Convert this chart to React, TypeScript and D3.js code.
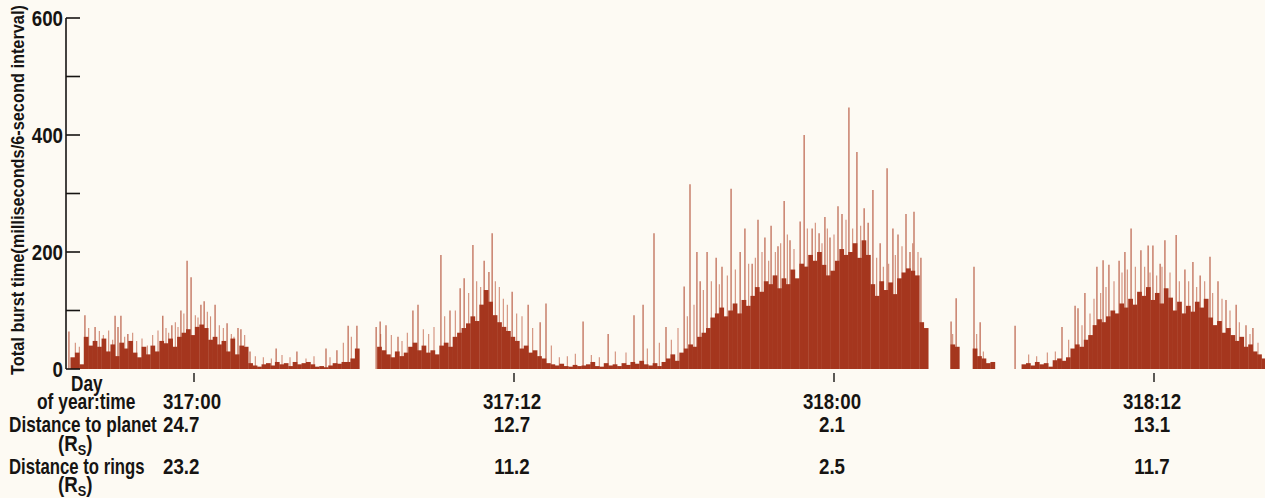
import React from 'react';
import * as d3 from 'd3';

// Time axis: hours after 317:00 (day of year 317, 00:00)
const timeDomain = [-4.8, 40.2];
const binHours = 1 / 6; // 10-minute bins

// Burst body per 10-minute bin (ms per 6 s interval), null = no data
const burstBody: (number | null)[] = [
  null, 20, 28, 8, 55, 40, 48, 38, 52,
  30, 42, 22, 45, 35, 48, 28, 20, 38,
  25, 40, 30, 48, 44, 52, 38, 55, 62,
  68, 58, 72, 76, 70, 50, 55, 42, 48,
  30, 52, 25, 40, 38, 10, 6, 4, 8,
  10, 6, 12, 8, 10, 5, 12, 8, 10,
  12, 8, 4, 5, 3, 6, 10, 9, 12,
  12, 18, 35, null, null, null, null, 38, 32,
  25, 20, 30, 22, 28, 38, 45, 32, 40,
  28, 32, 25, 40, 45, 38, 55, 62, 70,
  78, 90, 82, 110, 135, 115, 92, 80, 72,
  65, 55, 48, 35, 40, 28, 32, 22, 18,
  10, 8, 6, 9, 5, 4, 7, 5, 6,
  8, 12, 5, 4, 10, 6, 8, 5, 10,
  7, 12, 9, 14, 8, 6, 10, 5, 12,
  18, 25, 14, 28, 35, 42, 38, 55, 62,
  70, 88, 95, 105, 90, 100, 112, 95, 118,
  108, 125, 140, 132, 150, 145, 160, 138, 155,
  145, 170, 155, 180, 175, 195, 185, 200, 178,
  160, 168, 185, 205, 195, 200, 215, 190, 220,
  195, 145, 125, 150, 135, 148, 128, 155, 165,
  172, 168, 160, 80, 70, null, null, null, null,
  null, 42, 38, null, null, null, 35, 22, 18,
  10, 12, null, null, null, null, null, null, 8,
  10, 6, 12, 8, 10, 4, 15, 18, 14,
  20, 35, 42, 38, 50, 58, 75, 85, 80,
  90, 100, 95, 112, 105, 120, 110, 132, 125,
  140, 118, 130, 112, 138, 122, 100, 115, 95,
  108, 98, 115, 105, 120, 88, 75, 82, 62,
  70, 58, 48, 55, 38, 42, 30, 25, 18,
];

// Tall isolated bursts: [hours after 317:00, ms]
const burstSpikes: [number, number][] = [
  [-4.69, 64], [-4.09, 92], [-3.71, 72], [-2.96, 91], [-2.85, 72], [-2.74, 91],
  [-2.48, 60], [-1.17, 91], [-0.83, 75], [-0.49, 100], [-0.26, 185], [-0.11, 157],
  [0.26, 110], [0.38, 116], [0.79, 110], [1.24, 78], [1.65, 70], [1.76, 68],
  [2.1, 30], [3.08, 35], [3.86, 30], [4.95, 35], [5.36, 32], [5.78, 74],
  [6.11, 74], [6.83, 72], [6.98, 81], [7.2, 75], [7.65, 55], [8.21, 100],
  [8.4, 110], [9.26, 195], [9.6, 100], [9.98, 138], [10.13, 155], [10.46, 212],
  [10.88, 185], [11.06, 166], [11.18, 232], [11.93, 132], [12.53, 110], [12.98, 80],
  [13.2, 112], [14.59, 81], [15.53, 60], [16.5, 92], [16.84, 110], [17.25, 232],
  [17.7, 72], [18.38, 141], [18.6, 316], [18.86, 200], [18.98, 150], [19.24, 200],
  [19.58, 190], [19.8, 175], [20.14, 308], [20.48, 200], [20.66, 240], [20.93, 180],
  [21.15, 255], [21.41, 225], [21.64, 245], [21.9, 210], [22.13, 287], [22.35, 220],
  [22.73, 252], [22.88, 400], [23.18, 240], [23.44, 232], [23.66, 260], [23.85, 225],
  [24.15, 278], [24.3, 265], [24.56, 447], [24.86, 371], [25.13, 275], [25.28, 250],
  [25.46, 306], [25.73, 215], [25.99, 343], [26.21, 240], [26.4, 230], [26.7, 265],
  [26.85, 200], [27.0, 269], [27.26, 190], [28.39, 81], [28.58, 121], [29.25, 175],
  [29.48, 80], [30.79, 74], [32.55, 72], [33.04, 108], [33.15, 104], [33.41, 130],
  [33.86, 175], [34.09, 186], [34.31, 178], [34.69, 185], [34.91, 200], [35.14, 240],
  [35.51, 203], [35.78, 211], [35.96, 211], [36.23, 180], [36.41, 220], [36.83, 229],
  [37.16, 170], [37.46, 183], [37.73, 160], [38.1, 192], [38.4, 150], [38.7, 118],
  [39.08, 110], [39.45, 75], [39.71, 70],
];

// Short pale bursts just above the body: [hours after 317:00, ms]
const burstFringe: [number, number][] = [
  [-4.45, 45], [-4.3, 38], [-3.95, 70], [-3.55, 65], [-3.4, 58], [-3.2, 66], [-3.05, 50],
  [-2.6, 55], [-2.3, 62], [-2.15, 48], [-1.95, 52], [-1.75, 40], [-1.55, 58], [-1.35, 66],
  [-1.05, 70], [-0.95, 62], [-0.7, 80], [-0.6, 72], [-0.38, 95], [0.05, 92], [0.15, 88],
  [0.5, 98], [0.62, 90], [0.95, 75], [1.1, 70], [1.4, 60], [1.5, 55], [1.9, 58],
  [2.3, 22], [2.6, 20], [2.9, 18], [3.3, 24], [3.6, 20], [4.2, 18], [4.5, 22], [5.1, 20],
  [5.6, 45], [5.9, 55],
  [7.0, 60], [7.4, 58], [7.8, 48], [8.0, 62], [8.6, 68], [8.8, 60], [9.0, 72], [9.4, 90],
  [9.8, 100], [10.3, 130], [10.6, 150], [10.75, 140], [11.3, 150], [11.45, 140], [11.6, 120],
  [11.75, 110], [12.1, 95], [12.3, 90], [12.7, 70], [13.4, 40], [13.7, 20], [14.0, 22],
  [14.3, 26], [14.9, 24], [15.2, 20], [15.8, 30], [16.2, 28], [17.0, 35], [17.45, 45],
  [17.9, 50], [18.15, 70],
  [18.5, 90], [18.75, 110], [19.1, 135], [19.4, 150], [19.7, 145], [20.0, 160], [20.3, 170],
  [20.8, 180], [21.05, 190], [21.3, 200], [21.55, 185], [21.8, 200], [22.0, 215], [22.25, 230],
  [22.5, 205], [23.0, 240], [23.3, 250], [23.55, 215], [23.75, 240], [24.0, 230], [24.45, 255],
  [24.7, 240], [25.0, 245], [25.6, 190], [25.85, 175], [26.05, 180], [26.3, 195], [26.55, 210],
  [26.95, 215], [27.15, 200],
  [28.45, 60], [29.35, 60], [29.6, 30],
  [31.3, 25], [31.6, 22], [32.0, 28], [32.3, 30], [32.8, 50], [33.3, 75], [33.6, 95],
  [33.75, 120], [34.0, 130], [34.2, 140], [34.5, 150], [34.8, 165], [35.0, 170], [35.3, 175],
  [35.65, 175], [35.85, 165], [36.1, 160], [36.3, 175], [36.6, 165], [36.95, 150], [37.3, 150],
  [37.6, 140], [37.9, 150], [38.2, 130], [38.55, 120], [38.85, 100], [39.2, 80], [39.6, 60],
  [39.9, 45],
];

const yTicks = [0, 100, 200, 300, 400, 500, 600];
const yLabelled = [0, 200, 400, 600];

const dayTicks = [0, 12, 24, 36];
const dayLabels = ['317:00', '317:12', '318:00', '318:12'];
const planetDist = ['24.7', '12.7', '2.1', '13.1'];
const ringDist = ['23.2', '11.2', '2.5', '11.7'];

const W = 1265;
const H = 498;
const BG = '#fdfaf3';
const BAR = '#a5361e';
const SPIKE = '#b0462c';
const FRINGE = '#c46a50';
const INK = '#161412';
const FONT = '"Liberation Sans", Arial, Helvetica, sans-serif';

// the printed lettering is a condensed bold face: squeeze a regular bold horizontally
const Cond = ({ x, y, anchor = 'start', size = 22, squeeze = 0.85, children }: any) => (
  <text
    transform={`translate(${x},${y}) scale(${squeeze},1)`}
    textAnchor={anchor}
    fontFamily={FONT}
    fontWeight={700}
    fontSize={size}
    fill={INK}
  >
    {children}
  </text>
);

export default function App() {
  const x = d3.scaleLinear().domain(timeDomain).range([66, 1266]);
  const y = d3.scaleLinear().domain([0, 600]).range([369, 18]);

  const bars = burstBody
    .map((v, i) => ({ v, t0: timeDomain[0] + i * binHours, t1: timeDomain[0] + (i + 1) * binHours }))
    .filter(d => d.v !== null);

  const rs = (
    <>
      (R<tspan fontSize={15} dy={4}>S</tspan>
      <tspan dy={-4}>)</tspan>
    </>
  );

  return (
    <svg width={W} height={H} style={{ position: 'absolute', left: 0, top: 0, background: BG }}>
      <rect width={W} height={H} fill={BG} />

      {/* pale short bursts */}
      <g stroke={FRINGE} strokeWidth={1.1} opacity={0.75}>
        {burstFringe.map(([t, v], i) => (
          <line key={i} x1={x(t)} x2={x(t)} y1={y(0)} y2={y(v)} />
        ))}
      </g>

      {/* tall bursts */}
      <g stroke={SPIKE} strokeWidth={1.2} opacity={0.85}>
        {burstSpikes.map(([t, v], i) => (
          <line key={i} x1={x(t)} x2={x(t)} y1={y(0)} y2={y(v)} />
        ))}
      </g>

      {/* body */}
      <g fill={BAR}>
        {bars.map((d, i) => (
          <rect
            key={i}
            x={x(d.t0)}
            width={x(d.t1) - x(d.t0) + 0.3}
            y={y(d.v as number)}
            height={y(0) - y(d.v as number)}
          />
        ))}
      </g>

      {/* y axis */}
      <g stroke={INK} strokeWidth={1.6}>
        <line x1={66} x2={66} y1={y(600)} y2={y(0)} />
        {yTicks.map(t => (
          <line key={t} x1={66} x2={80} y1={y(t)} y2={y(t)} />
        ))}
      </g>
      {yLabelled.map(t => (
        <Cond key={t} x={63} y={y(t) + 8} anchor="end">{t}</Cond>
      ))}
      <text
        fontFamily={FONT}
        fontWeight={700}
        fontSize={19}
        fill={INK}
        textAnchor="middle"
        transform="translate(24,190) rotate(-90) scale(0.86,1)"
      >
        Total burst time(milliseconds/6-second interval)
      </text>

      {/* x ticks */}
      <g stroke={INK} strokeWidth={1.4}>
        {dayTicks.map(t => (
          <line key={t} x1={x(t)} x2={x(t)} y1={373} y2={382} />
        ))}
      </g>

      {/* row titles */}
      <Cond x={71} y={391} squeeze={0.78}>Day</Cond>
      <Cond x={37} y={409} squeeze={0.79}>of year:time</Cond>
      <Cond x={9} y={432} squeeze={0.78}>Distance to planet</Cond>
      <Cond x={58} y={451}>{rs}</Cond>
      <Cond x={9} y={474} squeeze={0.76}>Distance to rings</Cond>
      <Cond x={58} y={492}>{rs}</Cond>

      {/* column values */}
      {dayTicks.map((t, i) => {
        const first = i === 0;
        const cx = x(t) - 2;
        const anchor = first ? 'start' : 'middle';
        const lx = first ? x(t) - 31 : cx;
        return (
          <g key={t}>
            <Cond x={cx} y={409} anchor="middle">{dayLabels[i]}</Cond>
            <Cond x={lx} y={432} anchor={anchor}>{planetDist[i]}</Cond>
            <Cond x={lx} y={474} anchor={anchor}>{ringDist[i]}</Cond>
          </g>
        );
      })}
    </svg>
  );
}
